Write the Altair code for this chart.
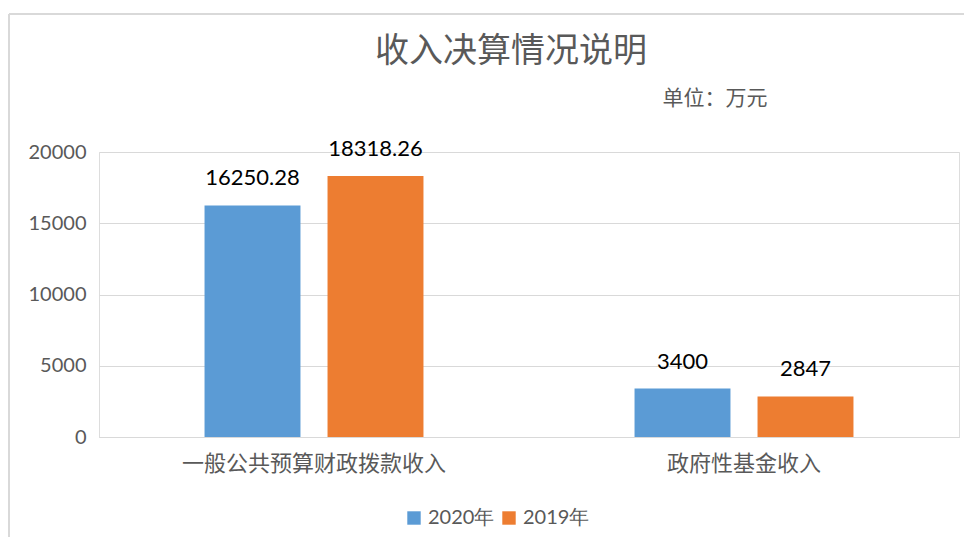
import altair as alt
import pandas as pd

categories = ["一般公共预算财政拨款收入", "政府性基金收入"]
years = ["2020年", "2019年"]
values_2020 = [16250.28, 3400]
values_2019 = [18318.26, 2847]
label_2020 = ["16250.28", "3400"]
label_2019 = ["18318.26", "2847"]
y_ticks = [0, 5000, 10000, 15000, 20000]
title_text = "收入决算情况说明"
unit_text = "单位：万元"
colors = ["#5B9BD5", "#ED7D31"]

rows = []
for i, c in enumerate(categories):
    rows.append({"cat": c, "year": years[0], "value": values_2020[i], "label": label_2020[i]})
    rows.append({"cat": c, "year": years[1], "value": values_2019[i], "label": label_2019[i]})
df = pd.DataFrame(rows)

W, H = 860, 285
GRAY = "#595959"
GRID = "#D9D9D9"
CJK = "Noto Sans CJK SC"
NUM = "Lato"

x_enc = alt.X("cat:N", sort=categories,
              scale=alt.Scale(paddingInner=0, paddingOuter=0),
              axis=alt.Axis(title=None, labelAngle=0, ticks=False, domain=True,
                            domainColor=GRID, domainWidth=1, labelFont=CJK,
                            labelFontSize=22, labelColor=GRAY, labelPadding=16,
                            labelLimit=0))
xo_enc = alt.XOffset("year:N", sort=years,
                     scale=alt.Scale(paddingInner=0.22, paddingOuter=0.858))
y_enc = alt.Y("value:Q", scale=alt.Scale(domain=[0, 20000], nice=False),
              axis=alt.Axis(title=None, values=y_ticks, ticks=False, domain=False,
                            format="d",
                            gridColor=GRID, gridWidth=1, labelFont=NUM,
                            labelFontSize=20, labelColor=GRAY, labelPadding=13))
color_enc = alt.Color("year:N", sort=years,
                      scale=alt.Scale(domain=years, range=colors),
                      legend=alt.Legend(title=None, orient="none", legendX=305, legendY=356,
                                        direction="horizontal", symbolType="square",
                                        symbolSize=180, symbolStrokeWidth=0,
                                        labelFont=NUM, labelFontSize=20, labelColor=GRAY,
                                        labelOffset=4, columnPadding=4))

base = alt.Chart(df)
bars = base.mark_bar().encode(x=x_enc, xOffset=xo_enc, y=y_enc, color=color_enc)
texts = base.mark_text(baseline="alphabetic", dy=-20, font=NUM, fontSize=22,
                       color="#000000").encode(x=x_enc, xOffset=xo_enc, y=y_enc,
                                               text="label:N")

title = alt.Chart(pd.DataFrame({"t": [title_text]})).mark_text(
    font=CJK, fontSize=34, color=GRAY, baseline="middle", align="center"
).encode(x=alt.value(412), y=alt.value(-100), text="t:N")

unit = alt.Chart(pd.DataFrame({"t": [unit_text]})).mark_text(
    font=CJK, fontSize=21, color=GRAY, baseline="middle", align="center"
).encode(x=alt.value(616), y=alt.value(-53), text="t:N")

border_df = pd.DataFrame({"k": [0]})
left_border = alt.Chart(border_df).mark_rule(color=GRID, strokeWidth=2).encode(
    x=alt.value(-90), y=alt.value(-138), y2=alt.value(400))
top_border = alt.Chart(border_df).mark_rule(color=GRID, strokeWidth=2).encode(
    x=alt.value(-90), x2=alt.value(880), y=alt.value(-138))

chart = alt.layer(left_border, top_border, bars, texts, title, unit).properties(
    width=W, height=H,
    autosize=alt.AutoSizeParams(type="none"),
    padding={"left": 91, "top": 144, "right": 5, "bottom": 100},
).configure_view(stroke=None).configure(background="white")

chart.save("out.html", embed_options={"renderer": "svg", "actions": False})
